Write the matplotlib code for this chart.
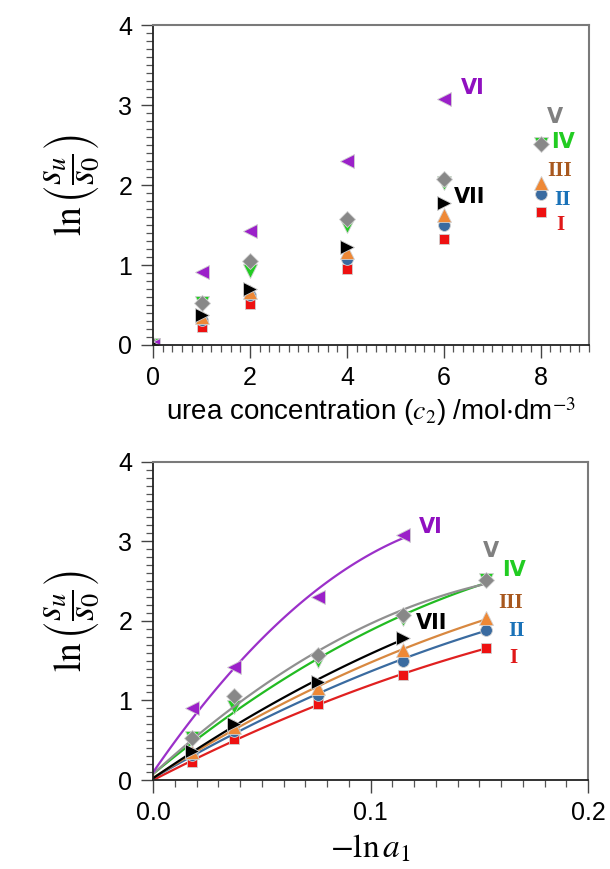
import numpy as np
import matplotlib
matplotlib.use("Agg")
import matplotlib.pyplot as plt
from matplotlib.ticker import MultipleLocator

plt.rcParams["font.family"] = ["Liberation Sans Narrow", "Liberation Sans", "DejaVu Sans"]
plt.rcParams["mathtext.fontset"] = "stix"

# urea concentration c2 / mol dm^-3 and the matching -ln a1
c2 = [0, 1, 2, 4, 6, 8]
neg_ln_a1 = [0.0, 0.018, 0.037, 0.076, 0.115, 0.153]

# ln(s_u/s_0) for each series
y_I = [0.0, 0.23, 0.51, 0.95, 1.32, 1.66]
y_II = [0.0, 0.31, 0.62, 1.07, 1.50, 1.89]
y_III = [0.0, 0.35, 0.66, 1.16, 1.63, 2.03]
y_IV = [0.0, 0.53, 0.92, 1.49, 2.02, 2.51]
y_V = [0.0, 0.53, 1.05, 1.57, 2.07, 2.51]
y_VI = [0.0, 0.91, 1.42, 2.30, 3.08]
y_VII = [0.0, 0.37, 0.70, 1.23, 1.78]

names = ["I", "II", "III", "IV", "V", "VI", "VII"]
values = [y_I, y_II, y_III, y_IV, y_V, y_VI, y_VII]
markers = ["s", "o", "^", "v", "D", "<", ">"]
msizes = [7.5, 8.5, 9.5, 9.5, 8, 9.5, 9.5]
mcolors = ["#ee1111", "#3a6ba0", "#ee8836", "#22cc22", "#888888", "#9b20c9", "#000000"]
lcolors = ["#e02020", "#3a6ba0", "#d88840", "#22bb22", "#909090", "#9b30c9", "#000000"]
tcolors = ["#e01818", "#1a72b8", "#a8581e", "#22cc22", "#808080", "#9010c0", "#000000"]
tfonts = ["Liberation Serif", "Liberation Serif", "Liberation Serif", "DejaVu Sans",
          "DejaVu Sans", "DejaVu Sans", "DejaVu Sans"]

# label positions (top panel in c2 units, bottom panel in -ln a1 units)
lab_top = {"I": (8.41, 1.50), "II": (8.44, 1.81), "III": (8.39, 2.17), "IV": (8.47, 2.54),
           "V": (8.29, 2.85), "VI": (6.59, 3.21), "VII": (6.54, 1.85)}
lab_bot = {"I": (0.1658, 1.53), "II": (0.167, 1.87), "III": (0.1643, 2.23), "IV": (0.1661, 2.64),
           "V": (0.1555, 2.88), "VI": (0.1275, 3.18), "VII": (0.128, 1.97)}

ylabel = r"$\ln\left(\dfrac{s_u}{s_0}\right)$"

fig = plt.figure(figsize=(6.1, 8.69), dpi=100)
ax1 = fig.add_axes([0.251, 0.603, 0.7148, 0.3682])
ax2 = fig.add_axes([0.251, 0.1024, 0.7130, 0.3663])


def style_axes(ax):
    for side in ["left", "bottom"]:
        ax.spines[side].set_color("#222222")
        ax.spines[side].set_linewidth(1.3)
    for side in ["top", "right"]:
        ax.spines[side].set_color("#7a7a7a")
        ax.spines[side].set_linewidth(1.5)
    ax.tick_params(which="major", direction="out", length=9, width=1.0, color="#444444",
                   labelsize=18, pad=6)
    ax.tick_params(which="minor", direction="out", length=5, width=0.9, color="#555555")
    ax.yaxis.set_major_locator(MultipleLocator(1))
    ax.yaxis.set_minor_locator(MultipleLocator(0.1))
    ax.set_ylim(0, 4)
    ax.set_ylabel(ylabel, fontsize=27, labelpad=12)


# top panel: raw points vs urea concentration
for name, ys, mk, ms, mc in zip(names, values, markers, msizes, mcolors):
    ax1.plot(c2[:len(ys)], ys, linestyle="none", marker=mk, markersize=ms, color=mc,
             markeredgecolor="#d0d0d0", markeredgewidth=0.6)
style_axes(ax1)
ax1.set_xlim(0, 9)
ax1.xaxis.set_major_locator(MultipleLocator(2))
ax1.xaxis.set_minor_locator(MultipleLocator(0.2))
ax1.set_xlabel(r"urea concentration ($c_2$) /mol$\cdot$dm$^{-3}$", fontsize=20, labelpad=4)
for name, col, fnt in zip(names, tcolors, tfonts):
    x, y = lab_top[name]
    ax1.text(x, y, name, color=col, fontsize=15, fontweight="bold", family=fnt,
             ha="center", va="center")

# bottom panel: points vs -ln a1 with quadratic fits
for name, ys, mk, ms, mc, lc in zip(names, values, markers, msizes, mcolors, lcolors):
    xs = np.array(neg_ln_a1[:len(ys)])
    coef = np.polyfit(xs, np.array(ys), 2)
    xf = np.linspace(0, xs[-1], 100)
    ax2.plot(xf, np.polyval(coef, xf), color=lc, linewidth=1.6)
    ax2.plot(xs[1:], ys[1:], linestyle="none", marker=mk, markersize=ms, color=mc,
             markeredgecolor="#d0d0d0", markeredgewidth=0.6)
style_axes(ax2)
ax2.set_xlim(0, 0.2)
ax2.xaxis.set_major_locator(MultipleLocator(0.1))
ax2.xaxis.set_minor_locator(MultipleLocator(0.01))
ax2.xaxis.set_major_formatter(plt.FormatStrFormatter("%.1f"))
ax2.set_xlabel(r"$-\ln a_1$", fontsize=24, labelpad=6)
for name, col, fnt in zip(names, tcolors, tfonts):
    x, y = lab_bot[name]
    ax2.text(x, y, name, color=col, fontsize=15, fontweight="bold", family=fnt,
             ha="center", va="center")

fig.savefig("out.png", dpi=100)
